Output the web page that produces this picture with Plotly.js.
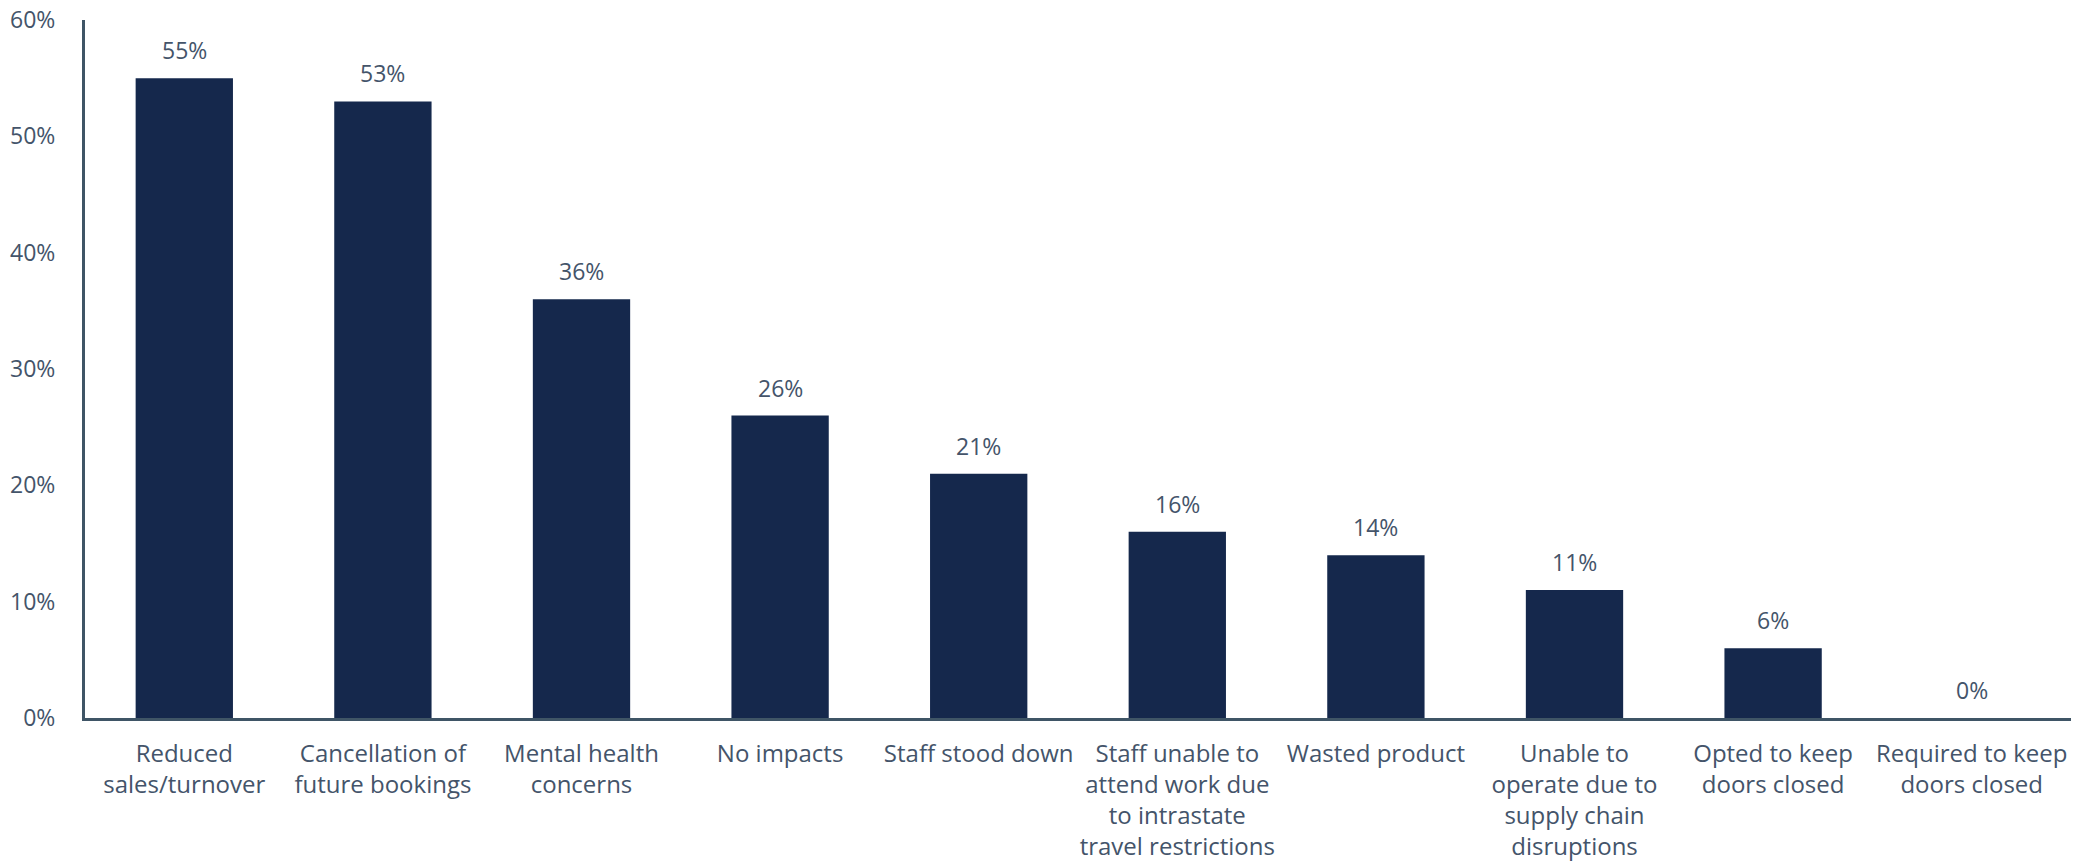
<!DOCTYPE html>
<html>
<head>
<meta charset="utf-8">
<script src="https://cdn.plot.ly/plotly-3.0.1.min.js"></script>
<style>html,body{margin:0;padding:0;background:#fff;}#chart{width:2091px;height:865px;}</style>
</head>
<body>
<div id="chart"></div>
<script>
const categories = [
  "Reduced<br>sales/turnover",
  "Cancellation of<br>future bookings",
  "Mental health<br>concerns",
  "No impacts",
  "Staff stood down",
  "Staff unable to<br>attend work due<br>to intrastate<br>travel restrictions",
  "Wasted product",
  "Unable to<br>operate due to<br>supply chain<br>disruptions",
  "Opted to keep<br>doors closed",
  "Required to keep<br>doors closed"
];
const values = [55, 53, 36, 26, 21, 16, 14, 11, 6, 0];
const yTickVals = [0, 10, 20, 30, 40, 50, 60];
const yTickText = ["0%", "10%", "20%", "30%", "40%", "50%", "60%"];

const textColor = "#44546a";
const font = {family: "Open Sans, Noto Sans, sans-serif", size: 23, color: textColor};
const xFont = {family: "Open Sans, Noto Sans, sans-serif", size: 24, color: textColor};

const trace = {
  type: "bar",
  x: categories,
  y: values,
  marker: {color: "#15284c"},
  hoverinfo: "none"
};

const annotations = categories.map((c, i) => ({
  x: c, y: values[i], xref: "x", yref: "y",
  text: values[i] + "%", showarrow: false,
  yanchor: "bottom", yshift: 10,
  font: font
}));

const layout = {
  width: 2091, height: 865,
  margin: {l: 85, r: 20, t: 20, b: 147},
  paper_bgcolor: "#ffffff", plot_bgcolor: "#ffffff",
  font: font,
  bargap: 0.51,
  showlegend: false,
  xaxis: {
    type: "category",
    showline: true, linecolor: "#3f5566", linewidth: 3,
    showgrid: false, zeroline: false, ticks: "",
    tickfont: xFont, ticklabelstandoff: 12
  },
  yaxis: {
    range: [0, 60],
    tickvals: yTickVals, ticktext: yTickText,
    showline: true, linecolor: "#3f5566", linewidth: 3,
    showgrid: false, zeroline: false, ticks: "",
    tickfont: font, ticklabelstandoff: 22
  },
  annotations: annotations
};

Plotly.newPlot("chart", [trace], layout, {displayModeBar: false, staticPlot: true});
</script>
</body>
</html>
